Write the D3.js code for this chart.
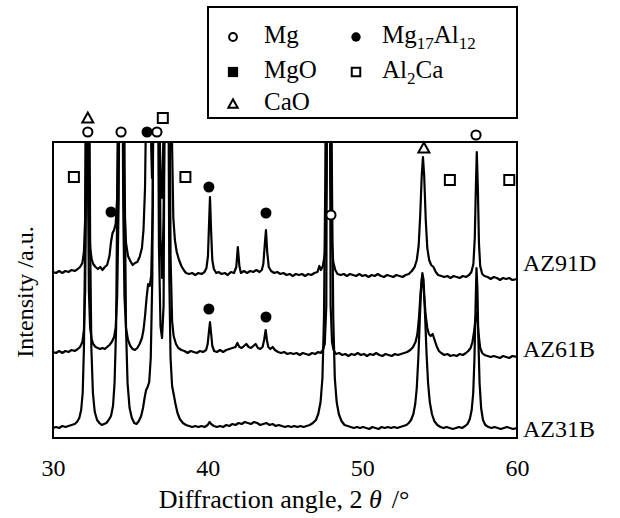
<!DOCTYPE html>
<html lang="en">
<head>
<meta charset="utf-8">
<title>XRD patterns of AZ alloys</title>
<script src="https://cdn.jsdelivr.net/npm/d3@7"></script>
<style>
  body { margin: 0; background: #fff; }
  text { font-family: "Liberation Serif", "Times New Roman", serif; fill: #000; }
</style>
</head>
<body>
<script>

// chart size
var w = 620, h = 518;
var plot = {left: 53, right: 517, top: 142, bottom: 438};

// x ticks
var xTicks = [30, 40, 50, 60];

// sample names, vertical offsets (a.u.)
var samples = ["AZ91D", "AZ61B", "AZ31B"];
var offsets = [150, 72, 0];

// patterns, [2theta, intensity] (tall peaks run off the top)
var az91d = [[30.0,16],[30.2,15],[30.4,17],[30.6,15],[30.8,17],[31.0,16],[31.2,18],[31.4,17],[31.6,19],[31.75,21],[31.9,25],[32.0,36],[32.08,70],[32.14,180],[32.2,420],[32.26,180],[32.32,72],[32.4,40],[32.5,29],[32.6,24],[32.75,21],[32.9,19],[33.05,21],[33.2,18],[33.35,21],[33.5,23],[33.65,32],[33.75,46],[33.85,55],[33.95,58],[34.05,64],[34.15,90],[34.25,180],[34.32,420],[34.46,420],[34.54,170],[34.62,80],[34.72,45],[34.85,32],[35.0,27],[35.15,23],[35.3,25],[35.45,26],[35.6,31],[35.75,40],[35.85,58],[35.95,100],[36.05,220],[36.12,420],[36.22,420],[36.32,160],[36.4,110],[36.5,180],[36.58,420],[36.75,420],[36.85,200],[36.95,110],[37.05,90],[37.15,160],[37.25,420],[37.6,420],[37.68,160],[37.78,70],[37.88,48],[38.0,36],[38.15,28],[38.3,22],[38.45,18],[38.6,15],[38.8,14],[39.0,15],[39.2,13],[39.4,15],[39.6,14],[39.8,16],[39.92,20],[40.02,32],[40.08,60],[40.15,91],[40.22,58],[40.3,28],[40.4,19],[40.55,15],[40.7,16],[40.9,14],[41.1,15],[41.3,13],[41.5,16],[41.7,15],[41.85,21],[41.95,41],[42.05,22],[42.15,15],[42.35,17],[42.55,15],[42.75,17],[42.95,16],[43.15,18],[43.35,16],[43.5,18],[43.6,24],[43.7,45],[43.77,58],[43.85,36],[43.95,21],[44.1,17],[44.3,15],[44.5,16],[44.7,14],[44.9,15],[45.1,13],[45.3,14],[45.5,12],[45.7,14],[45.9,13],[46.1,14],[46.3,12],[46.5,14],[46.7,13],[46.9,15],[47.1,16],[47.22,22],[47.32,18],[47.45,22],[47.58,35],[47.68,110],[47.75,420],[47.88,420],[47.95,110],[48.03,45],[48.12,26],[48.25,18],[48.4,14],[48.6,13],[48.8,14],[49.0,12],[49.2,14],[49.4,13],[49.6,12],[49.8,14],[50.0,12],[50.2,13],[50.4,11],[50.6,13],[50.8,12],[51.0,14],[51.2,12],[51.4,11],[51.6,13],[51.8,12],[52.0,11],[52.2,13],[52.4,12],[52.6,11],[52.8,13],[53.0,14],[53.2,17],[53.38,21],[53.52,28],[53.64,42],[53.74,72],[53.84,112],[53.92,131],[54.0,112],[54.1,68],[54.2,40],[54.32,28],[54.45,23],[54.6,21],[54.75,16],[54.9,13],[55.1,12],[55.3,11],[55.5,12],[55.7,10],[55.9,12],[56.1,11],[56.3,10],[56.5,12],[56.7,11],[56.9,13],[57.05,16],[57.18,24],[57.27,50],[57.34,100],[57.4,136],[57.47,100],[57.54,45],[57.62,22],[57.75,14],[57.9,12],[58.1,11],[58.3,9],[58.5,11],[58.7,10],[58.9,8],[59.1,10],[59.3,9],[59.5,10],[59.7,8],[60.0,9]];

var az61b = [[30.0,14],[30.2,13],[30.4,15],[30.6,13],[30.8,15],[31.0,14],[31.2,16],[31.4,15],[31.6,17],[31.75,19],[31.9,24],[32.0,36],[32.08,75],[32.14,190],[32.2,400],[32.26,190],[32.32,75],[32.4,38],[32.5,27],[32.6,22],[32.75,19],[32.9,18],[33.05,17],[33.2,18],[33.35,17],[33.5,19],[33.65,21],[33.8,24],[33.95,29],[34.05,38],[34.15,70],[34.25,170],[34.32,400],[34.46,400],[34.54,160],[34.62,70],[34.72,38],[34.85,26],[35.0,20],[35.15,17],[35.3,16],[35.45,18],[35.6,22],[35.75,28],[35.85,36],[35.95,50],[36.05,68],[36.15,82],[36.25,80],[36.35,90],[36.45,160],[36.52,400],[36.75,400],[36.85,120],[36.95,40],[37.05,28],[37.15,60],[37.25,400],[37.5,400],[37.6,110],[37.7,45],[37.8,30],[37.95,22],[38.1,18],[38.3,16],[38.5,15],[38.7,13],[38.9,15],[39.1,14],[39.3,13],[39.5,15],[39.7,14],[39.9,16],[40.0,22],[40.08,34],[40.15,44],[40.22,33],[40.3,20],[40.42,15],[40.6,14],[40.8,16],[41.0,14],[41.2,16],[41.4,17],[41.6,18],[41.8,19],[41.92,23],[42.05,19],[42.2,18],[42.35,20],[42.5,22],[42.65,19],[42.8,18],[42.95,20],[43.1,22],[43.25,18],[43.4,17],[43.55,19],[43.65,26],[43.75,36],[43.83,26],[43.92,19],[44.05,17],[44.2,19],[44.35,16],[44.55,14],[44.75,13],[44.95,14],[45.15,12],[45.35,13],[45.55,12],[45.75,13],[45.95,11],[46.15,13],[46.35,12],[46.55,11],[46.75,13],[46.95,12],[47.15,14],[47.3,13],[47.45,16],[47.57,22],[47.67,60],[47.74,400],[47.88,400],[47.95,60],[48.04,24],[48.14,16],[48.3,12],[48.5,13],[48.7,11],[48.9,12],[49.1,10],[49.3,12],[49.5,11],[49.7,13],[49.9,11],[50.1,12],[50.3,10],[50.5,12],[50.7,11],[50.9,13],[51.1,11],[51.3,10],[51.5,12],[51.7,11],[51.9,10],[52.1,12],[52.3,11],[52.5,12],[52.7,13],[52.9,14],[53.1,16],[53.28,19],[53.44,24],[53.56,32],[53.66,48],[53.76,72],[53.85,88],[53.92,84],[54.0,70],[54.1,50],[54.2,38],[54.3,32],[54.42,30],[54.55,32],[54.65,27],[54.8,20],[54.95,15],[55.1,13],[55.3,11],[55.5,12],[55.7,10],[55.9,11],[56.1,10],[56.3,12],[56.5,11],[56.7,13],[56.85,15],[57.0,18],[57.12,24],[57.22,34],[57.32,48],[57.38,54],[57.45,44],[57.53,30],[57.62,18],[57.75,13],[57.9,11],[58.1,10],[58.3,9],[58.5,10],[58.7,9],[58.9,8],[59.1,10],[59.3,9],[59.5,8],[59.7,10],[60.0,9]];

var az31b = [[30.0,10],[30.2,11],[30.4,10],[30.6,12],[30.8,11],[31.0,12],[31.2,13],[31.4,14],[31.55,16],[31.7,20],[31.82,28],[31.92,45],[32.0,90],[32.08,200],[32.14,400],[32.34,400],[32.4,200],[32.48,90],[32.58,45],[32.7,26],[32.85,18],[33.0,15],[33.15,13],[33.3,14],[33.45,15],[33.6,18],[33.75,22],[33.88,32],[33.98,55],[34.08,110],[34.16,250],[34.22,400],[34.58,400],[34.64,250],[34.72,110],[34.82,55],[34.95,30],[35.1,20],[35.25,15],[35.4,14],[35.55,17],[35.7,22],[35.82,30],[35.92,40],[36.02,48],[36.12,51],[36.22,56],[36.32,80],[36.42,160],[36.5,400],[36.85,400],[36.95,200],[37.05,160],[37.15,220],[37.25,400],[37.45,400],[37.52,160],[37.6,80],[37.7,52],[37.8,44],[37.92,34],[38.05,25],[38.2,19],[38.4,15],[38.6,13],[38.8,12],[39.0,11],[39.2,12],[39.4,11],[39.6,12],[39.8,11],[40.0,13],[40.12,16],[40.22,14],[40.4,12],[40.6,11],[40.8,12],[41.0,11],[41.2,13],[41.4,12],[41.6,14],[41.8,13],[42.0,15],[42.2,14],[42.4,16],[42.6,15],[42.8,14],[43.0,16],[43.2,15],[43.4,13],[43.6,14],[43.8,15],[44.0,13],[44.2,14],[44.4,12],[44.6,13],[44.8,12],[45.0,11],[45.2,12],[45.4,11],[45.6,12],[45.8,11],[46.0,12],[46.2,11],[46.4,12],[46.6,13],[46.8,15],[47.0,18],[47.15,24],[47.3,36],[47.42,60],[47.52,120],[47.6,250],[47.66,400],[47.98,400],[48.04,250],[48.12,120],[48.22,60],[48.34,36],[48.48,24],[48.65,17],[48.85,13],[49.05,12],[49.25,11],[49.45,10],[49.65,11],[49.85,10],[50.05,11],[50.25,10],[50.45,9],[50.65,11],[50.85,10],[51.05,9],[51.25,11],[51.45,10],[51.65,11],[51.85,10],[52.05,11],[52.25,10],[52.45,11],[52.65,12],[52.85,13],[53.0,15],[53.15,18],[53.3,24],[53.42,34],[53.52,50],[53.62,80],[53.72,120],[53.8,150],[53.88,165],[53.96,158],[54.05,125],[54.15,85],[54.25,55],[54.36,36],[54.5,24],[54.65,17],[54.85,13],[55.05,11],[55.25,10],[55.45,11],[55.65,10],[55.85,9],[56.05,10],[56.25,11],[56.45,10],[56.65,12],[56.8,14],[56.95,19],[57.07,28],[57.17,45],[57.25,80],[57.32,130],[57.38,170],[57.44,150],[57.5,100],[57.58,55],[57.68,30],[57.8,18],[57.95,13],[58.15,11],[58.35,10],[58.55,11],[58.75,10],[58.95,9],[59.15,10],[59.35,11],[59.55,10],[59.75,9],[60.0,10]];

var patterns = [az91d, az61b, az31b];

// phase markers, [2theta, level in a.u.]
var mgMarks = [[32.25,306],[34.4,306],[36.72,306],[47.97,223],[57.35,303]];
var mg17al12Marks = [[36.08,306],[33.75,226],[40.08,251],[43.77,225],[40.08,129],[43.77,121]];
var al2caMarks = [[37.1,320],[31.35,261],[38.56,261],[55.66,258],[59.5,258]];
var caoMarks = [[32.25,320],[53.98,290]];

// legend entries: text parts, [string, subscript?]
var legendItems = [
  {shape: "openCircle", parts: [["Mg", 0]]},
  {shape: "square", parts: [["MgO", 0]]},
  {shape: "triangle", parts: [["CaO", 0]]},
  {shape: "dot", parts: [["Mg", 0], ["17", 1], ["Al", 0], ["12", 1]]},
  {shape: "openSquare", parts: [["Al", 0], ["2", 1], ["Ca", 0]]}
];

var svg = d3.select("body").append("svg")
  .attr("width", w)
  .attr("height", h);

var x = d3.scaleLinear().domain([30, 60]).range([plot.left, plot.right]);
var y = d3.scaleLinear().domain([0, 296]).range([plot.bottom, plot.top]);

svg.append("clipPath").attr("id", "clip")
  .append("rect")
  .attr("x", plot.left).attr("y", plot.top)
  .attr("width", plot.right - plot.left).attr("height", plot.bottom - plot.top);

// traces
var line = d3.line();
svg.append("g").attr("clip-path", "url(#clip)")
  .selectAll("path")
  .data(patterns)
  .enter()
  .append("path")
  .attr("d", function(d, i) {
    return line(d.map(function(p) { return [x(p[0]), y(p[1] + offsets[i])]; }));
  })
  .attr("fill", "none")
  .attr("stroke", "#000")
  .attr("stroke-width", 2.2)
  .attr("stroke-linejoin", "round");

// frame
svg.append("rect")
  .attr("x", plot.left).attr("y", plot.top)
  .attr("width", plot.right - plot.left).attr("height", plot.bottom - plot.top)
  .attr("fill", "none").attr("stroke", "#000").attr("stroke-width", 2);

// x axis labels
var xAxis = d3.axisBottom(x).tickValues(xTicks).tickSize(0).tickPadding(21);
var gx = svg.append("g").attr("transform", "translate(0," + plot.bottom + ")").call(xAxis);
gx.select(".domain").remove();
gx.selectAll("text")
  .attr("font-family", "Liberation Serif, serif")
  .attr("font-size", 24);

// axis titles
var xt = svg.append("text")
  .attr("x", (plot.left + plot.right) / 2 - 1)
  .attr("y", 508)
  .attr("text-anchor", "middle")
  .attr("font-size", 26);
xt.append("tspan").text("Diffraction angle, 2 ");
xt.append("tspan").attr("font-style", "italic").text("θ");
xt.append("tspan").attr("dx", 10).text("/°");

svg.append("text")
  .attr("transform", "translate(33," + 292 + ") rotate(-90)")
  .attr("text-anchor", "middle")
  .attr("font-size", 24)
  .text("Intensity /a.u.");

// sample labels
var labelLevels = [167, 81, 1];
svg.selectAll(".sample")
  .data(samples)
  .enter()
  .append("text")
  .attr("class", "sample")
  .attr("x", plot.right + 6)
  .attr("y", function(d, i) { return y(labelLevels[i]); })
  .attr("font-size", 24)
  .text(function(d) { return d; });

// marker drawing helpers
function drawShape(g, shape, cx, cy, s) {
  if (shape === "openCircle") {
    g.append("circle").attr("cx", cx).attr("cy", cy).attr("r", 4.6 * s)
      .attr("fill", "#fff").attr("stroke", "#000").attr("stroke-width", 2);
  } else if (shape === "dot") {
    g.append("circle").attr("cx", cx).attr("cy", cy).attr("r", 5.5 * s).attr("fill", "#000");
  } else if (shape === "square") {
    g.append("rect").attr("x", cx - 6 * s).attr("y", cy - 6 * s)
      .attr("width", 12 * s).attr("height", 12 * s).attr("fill", "#000");
  } else if (shape === "openSquare") {
    g.append("rect").attr("x", cx - 5 * s).attr("y", cy - 5 * s)
      .attr("width", 10 * s).attr("height", 10 * s)
      .attr("fill", "#fff").attr("stroke", "#000").attr("stroke-width", 2);
  } else if (shape === "triangle") {
    var r = 5.5 * s;
    g.append("path")
      .attr("d", "M" + cx + "," + (cy - r) + "L" + (cx + r) + "," + (cy + r * 0.8) + "L" + (cx - r) + "," + (cy + r * 0.8) + "Z")
      .attr("fill", "#fff").attr("stroke", "#000").attr("stroke-width", 2).attr("stroke-linejoin", "miter");
  }
}

var marks = svg.append("g");
[["openCircle", mgMarks], ["dot", mg17al12Marks], ["openSquare", al2caMarks], ["triangle", caoMarks]]
  .forEach(function(m) {
    m[1].forEach(function(p) { drawShape(marks, m[0], x(p[0]), y(p[1]), 1); });
  });

// legend
var lg = svg.append("g");
lg.append("rect")
  .attr("x", 208).attr("y", 7).attr("width", 309).attr("height", 111)
  .attr("fill", "#fff").attr("stroke", "#000").attr("stroke-width", 2);

var colX = [233, 356], textX = [264, 382], rowY = [43, 78, 110];
legendItems.forEach(function(item, i) {
  var col = i < 3 ? 0 : 1, row = i < 3 ? i : i - 3;
  drawShape(lg, item.shape, colX[col], rowY[row] - 6, 0.85);
  var t = lg.append("text").attr("x", textX[col]).attr("y", rowY[row]).attr("font-size", 25);
  var low = 0;
  item.parts.forEach(function(p) {
    var dy = p[1] ? 6 - low : -low;
    low = p[1] ? 6 : 0;
    t.append("tspan").attr("dy", dy).attr("font-size", p[1] ? 17 : 25).text(p[0]);
  });
});

</script>
</body>
</html>
